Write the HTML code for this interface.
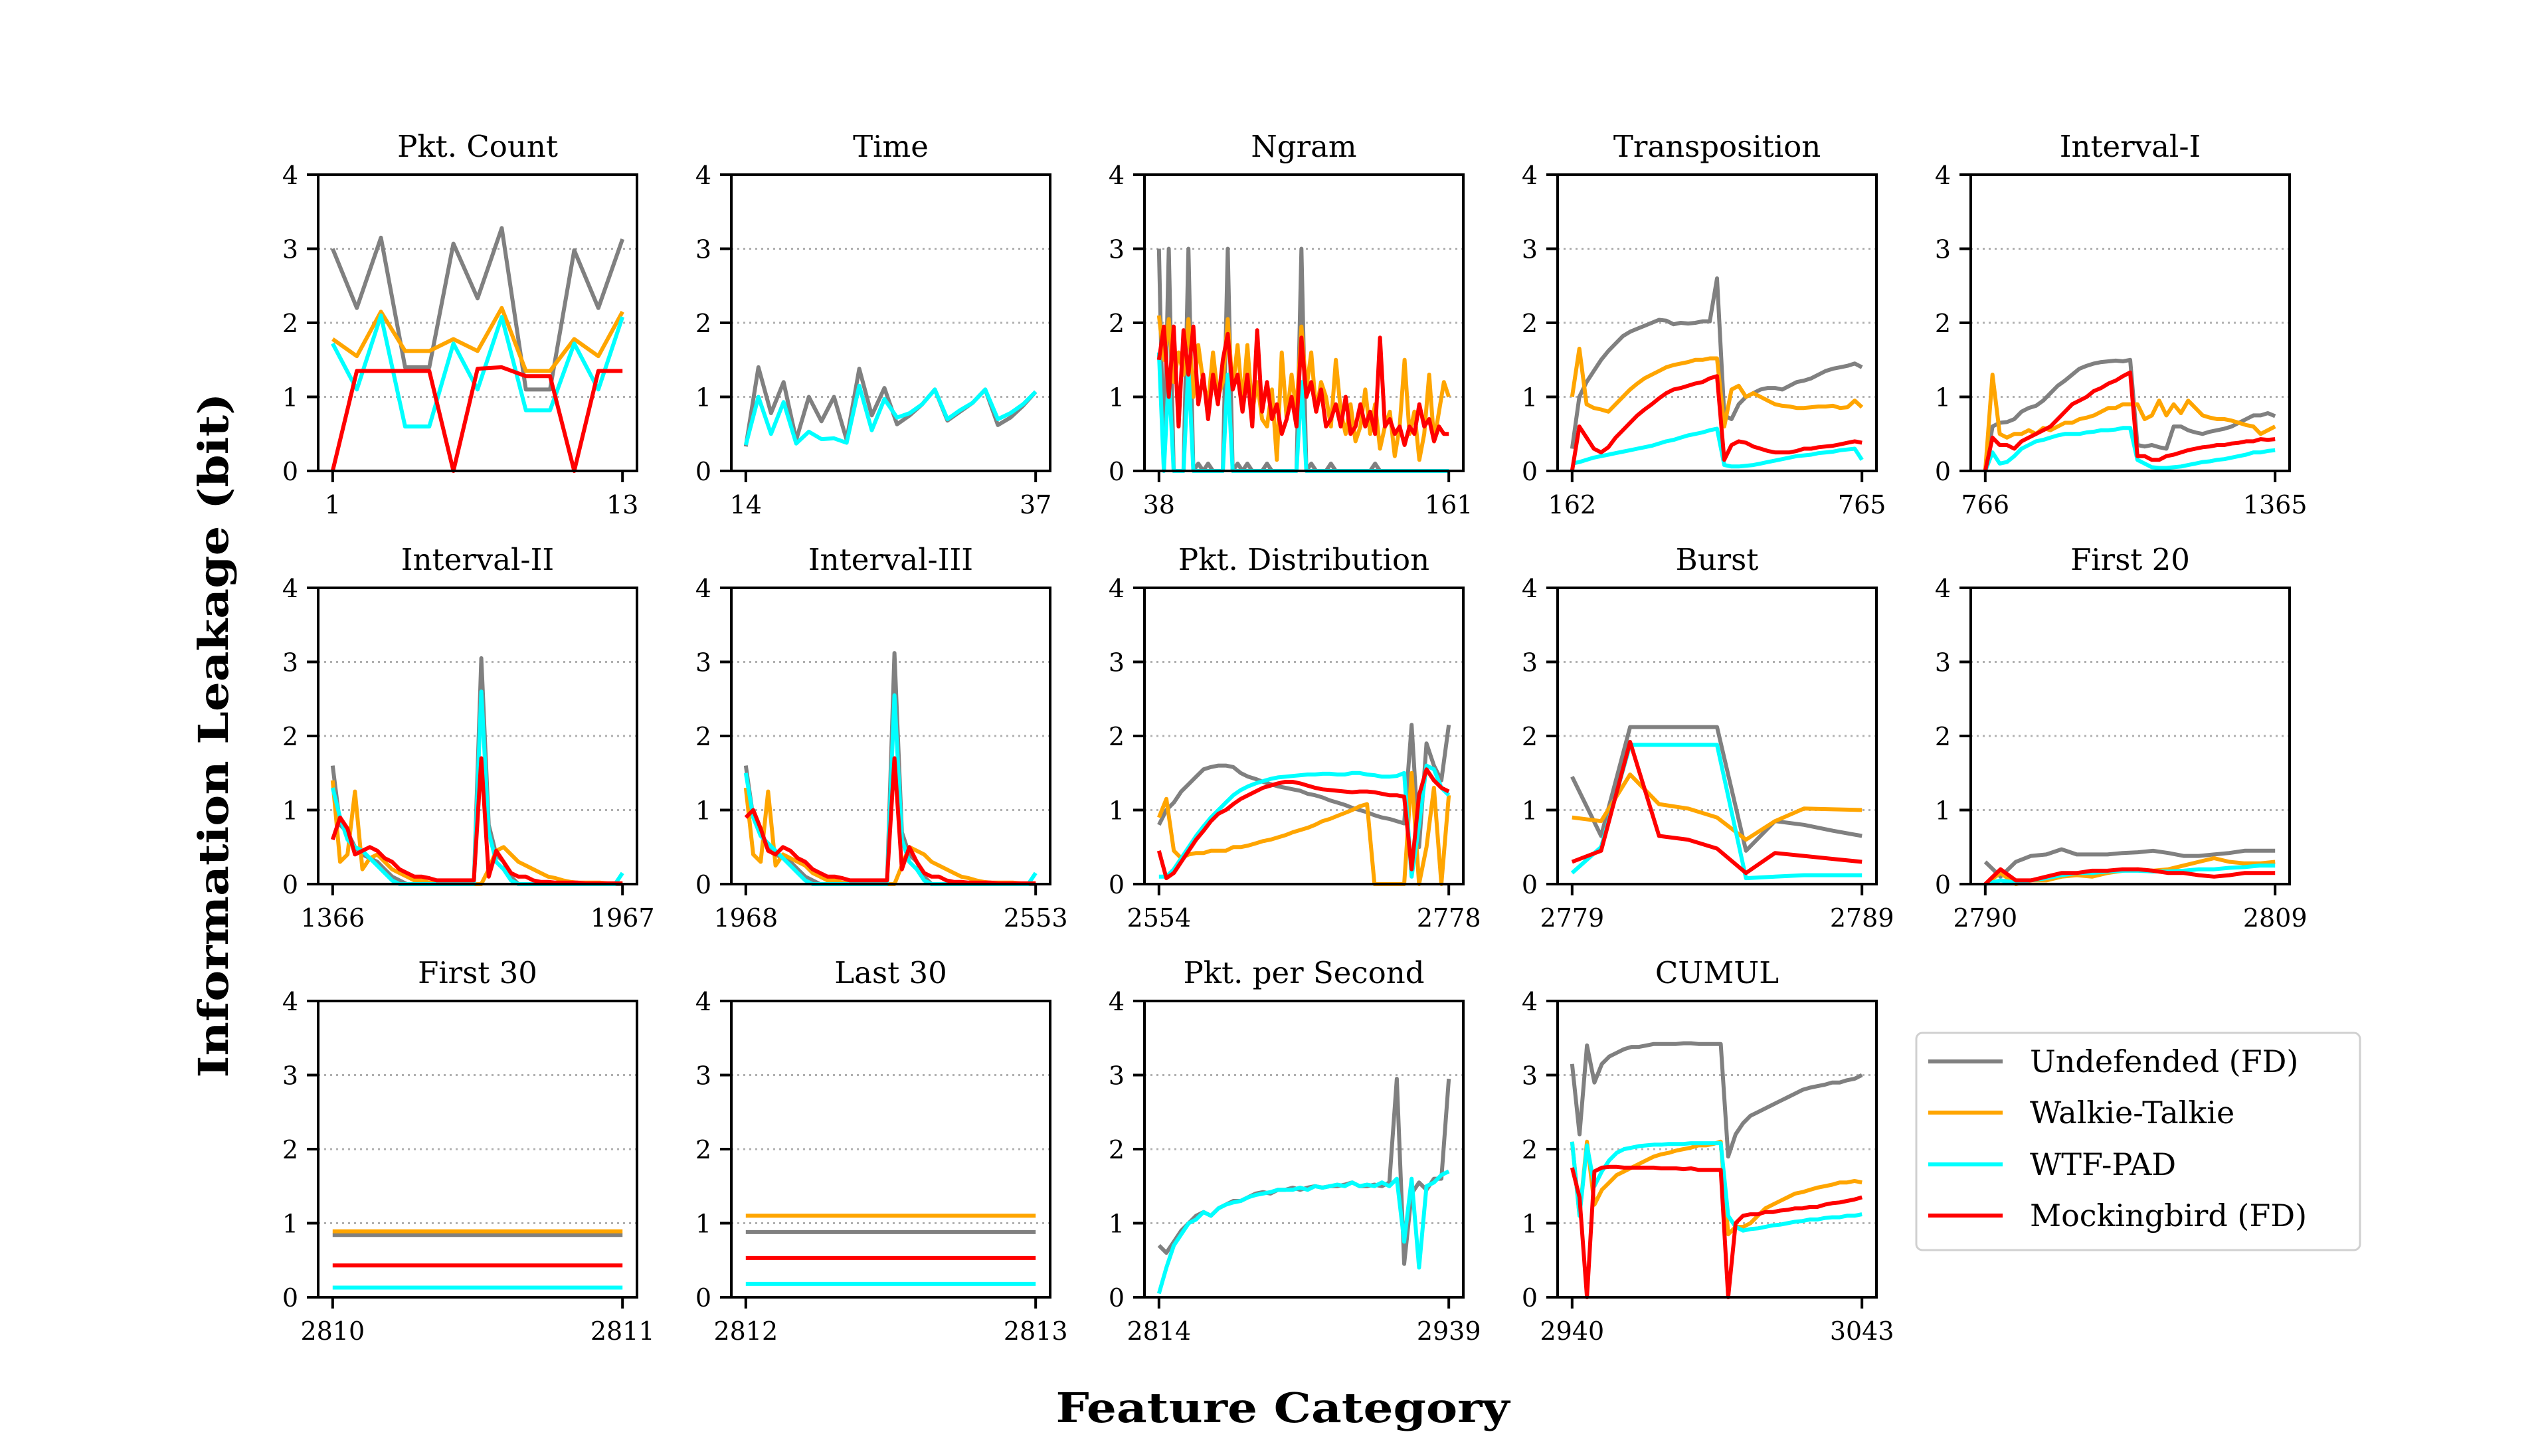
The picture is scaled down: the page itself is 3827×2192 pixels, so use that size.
<!DOCTYPE html>
<html><head><meta charset="utf-8"><style>
html,body{margin:0;padding:0;background:#fff;}
svg{display:block;font-family:"DejaVu Serif","Liberation Serif",serif;}
</style></head><body>
<svg id="fig" width="3827" height="2192" viewBox="0 0 3827 2192" xmlns="http://www.w3.org/2000/svg">
<rect width="3827" height="2192" fill="#fff"/>
<text transform="translate(343,1107) rotate(-90)" text-anchor="middle" font-weight="bold" font-size="62" textLength="1031" lengthAdjust="spacingAndGlyphs">Information Leakage (bit)</text>
<text x="1931" y="2141" text-anchor="middle" font-weight="bold" font-size="62" textLength="683" lengthAdjust="spacingAndGlyphs">Feature Category</text>
<g id="panels"></g>
<g>
<rect x="2885" y="1555" width="668" height="327" rx="9" fill="#fff" stroke="#d0d0d0" stroke-width="3"/>
<line x1="2903" x2="3015" y1="1598" y2="1598" stroke="#808080" stroke-width="6"/>
<text x="3056" y="1614" font-size="46">Undefended (FD)</text>
<line x1="2903" x2="3015" y1="1675" y2="1675" stroke="#ffa500" stroke-width="6"/>
<text x="3056" y="1691" font-size="46">Walkie-Talkie</text>
<line x1="2903" x2="3015" y1="1753" y2="1753" stroke="#00ffff" stroke-width="6"/>
<text x="3056" y="1769" font-size="46">WTF-PAD</text>
<line x1="2903" x2="3015" y1="1830" y2="1830" stroke="#ff0000" stroke-width="6"/>
<text x="3056" y="1846" font-size="46">Mockingbird (FD)</text>
</g>
</svg>
<script>
const panelTitles = ["Pkt. Count","Time","Ngram","Transposition","Interval-I","Interval-II","Interval-III","Pkt. Distribution","Burst","First 20","First 30","Last 30","Pkt. per Second","CUMUL"];
const panelRanges = [[1,13],[14,37],[38,161],[162,765],[766,1365],[1366,1967],[1968,2553],[2554,2778],[2779,2789],[2790,2809],[2810,2811],[2812,2813],[2814,2939],[2940,3043]];
const yTicks = [0,1,2,3,4];
const seriesNames = ["undefended","walkie-talkie","wtf-pad","mockingbird"];

const pktCountGray = [3.0,2.2,3.15,1.4,1.4,3.07,2.33,3.28,1.1,1.1,2.98,2.2,3.13];
const pktCountOrange = [1.78,1.55,2.15,1.62,1.62,1.78,1.62,2.2,1.35,1.35,1.78,1.55,2.15];
const pktCountCyan = [1.72,1.1,2.1,0.6,0.6,1.72,1.1,2.08,0.82,0.82,1.72,1.1,2.08];
const pktCountRed = [0,1.35,1.35,1.35,1.35,0,1.38,1.4,1.28,1.28,0,1.35,1.35];

const timeGray = [0.33,1.4,0.78,1.2,0.42,1.0,0.67,1.0,0.42,1.38,0.75,1.12,0.63,0.75,0.9,1.1,0.68,0.8,0.92,1.1,0.62,0.72,0.88,1.07];
const timeCyan = [0.35,1.0,0.5,0.93,0.37,0.53,0.43,0.44,0.38,1.15,0.55,0.97,0.72,0.78,0.9,1.1,0.7,0.82,0.92,1.1,0.7,0.78,0.9,1.07];

const ngramGray = [3,0,3,0,0,0,3,0,0.1,0,0.1,0,0,0,3,0,0.1,0,0.1,0,0,0,0.1,0,0,0,0,0,0,3,0,0.1,0,0,0,0.1,0,0,0,0,0,0,0,0,0.1,0,0,0,0,0,0,0,0,0,0,0,0,0,0,0];
const ngramOrange = [2.1,1.5,2.05,1.2,1.6,1.3,2.05,1.0,1.7,1.2,0.9,1.6,1.0,1.2,2.05,1.1,1.7,0.9,1.7,0.8,1.2,0.7,0.6,1.1,0.15,1.6,0.7,1.3,0.8,1.95,1.1,1.6,0.8,1.2,1.0,0.6,1.5,0.8,0.5,0.9,0.4,0.6,1.1,0.5,0.9,0.3,0.6,0.8,0.2,0.6,1.5,0.5,0.8,0.15,0.5,1.3,0.4,0.8,1.2,1.0];
const ngramCyan = [1.6,0,1.3,0,0,0,1.4,0,0,0,0,0,0,0,1.3,0,0,0,0,0,0,0,0,0,0,0,0,0,0,1.2,0,0,0,0,0,0,0,0,0,0,0,0,0,0,0,0,0,0,0,0,0,0,0,0,0,0,0,0,0,0];
const ngramRed = [1.5,1.95,1.0,1.95,0.6,1.9,1.3,1.95,0.9,1.3,0.7,1.3,0.9,1.5,1.85,1.1,1.3,0.8,1.3,0.6,1.9,0.8,1.2,0.7,0.9,0.5,0.7,1.0,0.6,1.8,1.0,1.2,0.8,1.1,0.6,0.7,0.9,0.6,1.0,0.5,0.6,0.9,0.6,0.8,0.5,1.8,0.6,0.7,0.5,0.6,0.35,0.6,0.5,0.9,0.6,0.7,0.4,0.6,0.5,0.5];

const transGray = [0.3,1.0,1.2,1.35,1.5,1.62,1.72,1.82,1.88,1.92,1.96,2.0,2.04,2.03,1.98,2.0,1.99,2.0,2.02,2.02,2.6,0.75,0.7,0.9,1.0,1.05,1.1,1.12,1.12,1.1,1.15,1.2,1.22,1.25,1.3,1.35,1.38,1.4,1.42,1.45,1.4];
const transOrange = [1.0,1.65,0.9,0.85,0.83,0.8,0.9,1.0,1.1,1.18,1.25,1.3,1.35,1.4,1.43,1.45,1.47,1.5,1.5,1.52,1.52,0.6,1.1,1.15,1.0,1.05,1.0,0.95,0.9,0.88,0.87,0.85,0.85,0.86,0.87,0.87,0.88,0.85,0.86,0.95,0.86];
const transCyan = [0.1,0.12,0.15,0.18,0.2,0.22,0.24,0.26,0.28,0.3,0.32,0.34,0.37,0.4,0.42,0.45,0.48,0.5,0.52,0.55,0.57,0.08,0.06,0.06,0.07,0.08,0.1,0.12,0.14,0.16,0.18,0.2,0.21,0.22,0.24,0.25,0.26,0.28,0.29,0.3,0.15];
const transRed = [0,0.6,0.45,0.3,0.25,0.32,0.45,0.55,0.65,0.75,0.83,0.9,0.98,1.05,1.1,1.12,1.15,1.18,1.2,1.25,1.28,0.15,0.35,0.4,0.38,0.33,0.3,0.27,0.25,0.25,0.25,0.27,0.3,0.3,0.32,0.33,0.34,0.36,0.38,0.4,0.38];

const int1Gray = [0.0,0.6,0.65,0.66,0.7,0.8,0.85,0.88,0.95,1.05,1.15,1.22,1.3,1.38,1.42,1.45,1.47,1.48,1.49,1.48,1.5,0.35,0.33,0.35,0.32,0.3,0.6,0.6,0.55,0.52,0.5,0.53,0.55,0.57,0.6,0.65,0.7,0.75,0.75,0.78,0.74];
const int1Orange = [0,1.3,0.5,0.45,0.5,0.5,0.55,0.5,0.58,0.55,0.6,0.65,0.65,0.7,0.72,0.75,0.8,0.85,0.85,0.9,0.9,0.9,0.7,0.75,0.95,0.75,0.9,0.78,0.95,0.85,0.75,0.72,0.7,0.7,0.68,0.65,0.62,0.6,0.5,0.55,0.6];
const int1Cyan = [0,0.25,0.1,0.12,0.2,0.3,0.35,0.4,0.42,0.45,0.48,0.5,0.5,0.5,0.52,0.53,0.55,0.55,0.56,0.58,0.58,0.15,0.1,0.05,0.04,0.04,0.05,0.06,0.08,0.1,0.12,0.13,0.15,0.16,0.18,0.2,0.22,0.25,0.25,0.27,0.28];
const int1Red = [0,0.45,0.35,0.35,0.3,0.4,0.45,0.5,0.55,0.6,0.7,0.8,0.9,0.95,1.0,1.08,1.12,1.18,1.22,1.28,1.33,0.2,0.2,0.15,0.15,0.2,0.22,0.25,0.28,0.3,0.32,0.33,0.35,0.35,0.37,0.38,0.4,0.4,0.43,0.42,0.43];

const int2Gray = [1.6,0.8,0.7,0.5,0.4,0.35,0.3,0.2,0.1,0.05,0,0,0,0,0,0,0,0,0,0,3.05,0.8,0.4,0.3,0.1,0,0,0,0,0,0,0,0,0,0,0,0,0,0,0];
const int2Orange = [1.4,0.3,0.4,1.25,0.2,0.35,0.4,0.3,0.2,0.15,0.1,0.05,0.05,0.02,0,0,0,0,0,0,0,0.2,0.45,0.5,0.4,0.3,0.25,0.2,0.15,0.1,0.08,0.05,0.03,0.02,0.02,0.02,0.02,0.01,0.01,0.01];
const int2Cyan = [1.3,0.9,0.6,0.5,0.45,0.35,0.25,0.15,0.05,0,0,0,0,0,0,0,0,0,0,0,2.6,0.7,0.3,0.2,0.05,0,0,0,0,0,0,0,0,0,0,0,0,0,0,0.15];
const int2Red = [0.6,0.9,0.75,0.4,0.45,0.5,0.45,0.35,0.3,0.2,0.15,0.1,0.1,0.08,0.05,0.05,0.05,0.05,0.05,0.05,1.7,0.1,0.45,0.3,0.15,0.1,0.1,0.05,0.03,0.03,0.02,0.02,0.02,0.02,0.01,0.01,0.01,0.01,0.01,0.01];

const int3Gray = [1.6,0.9,0.7,0.5,0.4,0.35,0.3,0.2,0.1,0.05,0,0,0,0,0,0,0,0,0,0,3.12,0.7,0.4,0.3,0.1,0,0,0,0,0,0,0,0,0,0,0,0,0,0,0];
const int3Orange = [1.3,0.4,0.3,1.25,0.25,0.4,0.35,0.3,0.25,0.15,0.1,0.05,0.05,0.02,0,0,0,0,0,0,0,0.25,0.5,0.45,0.4,0.3,0.25,0.2,0.15,0.1,0.08,0.05,0.03,0.02,0.02,0.02,0.02,0.01,0.01,0.01];
const int3Cyan = [1.5,0.9,0.65,0.55,0.45,0.35,0.25,0.15,0.05,0,0,0,0,0,0,0,0,0,0,0,2.55,0.6,0.3,0.2,0.05,0,0,0,0,0,0,0,0,0,0,0,0,0,0,0.15];
const int3Red = [0.9,1.0,0.75,0.45,0.4,0.5,0.45,0.35,0.3,0.2,0.15,0.1,0.1,0.08,0.05,0.05,0.05,0.05,0.05,0.05,1.7,0.2,0.5,0.3,0.15,0.1,0.1,0.05,0.03,0.03,0.02,0.02,0.02,0.02,0.01,0.01,0.01,0.01,0.01,0.01];

const distGray = [0.8,1.0,1.1,1.25,1.35,1.45,1.55,1.58,1.6,1.6,1.58,1.5,1.45,1.42,1.38,1.35,1.32,1.3,1.28,1.26,1.22,1.2,1.17,1.13,1.1,1.07,1.03,1.0,0.97,0.93,0.9,0.88,0.85,0.82,2.15,0.5,1.9,1.6,1.4,2.15];
const distOrange = [0.9,1.15,0.45,0.35,0.4,0.42,0.42,0.45,0.45,0.45,0.5,0.5,0.52,0.55,0.58,0.6,0.63,0.66,0.7,0.73,0.76,0.8,0.85,0.88,0.92,0.96,1.0,1.05,1.08,0,0,0,0,0,1.5,0,0.5,1.3,0,1.2];
const distCyan = [0.1,0.1,0.2,0.35,0.5,0.65,0.78,0.9,1.0,1.1,1.2,1.27,1.32,1.36,1.39,1.42,1.44,1.45,1.46,1.47,1.48,1.48,1.49,1.49,1.48,1.48,1.5,1.5,1.48,1.47,1.45,1.45,1.46,1.5,0.1,0.8,1.6,1.55,1.3,1.2];
const distRed = [0.45,0.08,0.15,0.3,0.45,0.6,0.72,0.85,0.95,1.0,1.08,1.15,1.2,1.25,1.3,1.33,1.36,1.38,1.38,1.36,1.33,1.3,1.28,1.27,1.26,1.25,1.24,1.25,1.25,1.24,1.22,1.2,1.2,1.18,0.2,1.2,1.55,1.4,1.3,1.25];

const burstGray = [1.45,0.65,2.12,2.12,2.12,2.12,0.45,0.85,0.8,0.72,0.65];
const burstOrange = [0.9,0.85,1.48,1.08,1.02,0.9,0.6,0.85,1.02,1.01,1.0];
const burstCyan = [0.15,0.5,1.88,1.88,1.88,1.88,0.08,0.1,0.12,0.12,0.12];
const burstRed = [0.3,0.45,1.92,0.65,0.6,0.48,0.15,0.42,0.38,0.34,0.3];

const first20Gray = [0.3,0.1,0.3,0.38,0.4,0.47,0.4,0.4,0.4,0.42,0.43,0.45,0.42,0.38,0.38,0.4,0.42,0.45,0.45,0.45];
const first20Orange = [0,0.15,0,0.05,0.05,0.1,0.12,0.1,0.15,0.18,0.2,0.18,0.2,0.25,0.3,0.35,0.3,0.28,0.28,0.3];
const first20Cyan = [0,0.05,0.02,0.05,0.08,0.12,0.15,0.15,0.17,0.18,0.18,0.17,0.17,0.18,0.2,0.2,0.22,0.23,0.25,0.25];
const first20Red = [0,0.2,0.05,0.05,0.1,0.15,0.15,0.18,0.18,0.2,0.2,0.18,0.15,0.15,0.12,0.1,0.12,0.15,0.15,0.15];

const first30Gray = [0.84,0.84];
const first30Orange = [0.89,0.89];
const first30Cyan = [0.13,0.13];
const first30Red = [0.43,0.43];

const last30Gray = [0.88,0.88];
const last30Orange = [1.1,1.1];
const last30Cyan = [0.18,0.18];
const last30Red = [0.53,0.53];

const ppsGray = [0.7,0.6,0.75,0.9,1.0,1.1,1.15,1.1,1.2,1.25,1.3,1.3,1.35,1.4,1.42,1.4,1.45,1.45,1.48,1.45,1.48,1.5,1.48,1.5,1.5,1.52,1.55,1.5,1.5,1.52,1.5,1.55,2.95,0.45,1.4,1.55,1.45,1.6,1.6,2.95];
const ppsCyan = [0.05,0.4,0.7,0.85,1.0,1.05,1.15,1.1,1.2,1.25,1.28,1.3,1.35,1.38,1.4,1.42,1.45,1.45,1.45,1.48,1.45,1.5,1.48,1.5,1.52,1.5,1.55,1.5,1.52,1.5,1.55,1.5,1.6,0.75,1.6,0.4,1.5,1.55,1.65,1.7];

const cumulGray = [3.15,2.2,3.4,2.9,3.15,3.25,3.3,3.35,3.38,3.38,3.4,3.42,3.42,3.42,3.42,3.43,3.43,3.42,3.42,3.42,3.42,1.9,2.2,2.35,2.45,2.5,2.55,2.6,2.65,2.7,2.75,2.8,2.83,2.85,2.87,2.9,2.9,2.93,2.95,3.0];
const cumulOrange = [2.1,1.1,2.1,1.25,1.45,1.55,1.65,1.7,1.75,1.8,1.85,1.9,1.93,1.95,1.98,2.0,2.02,2.05,2.05,2.07,2.1,0.85,0.95,0.95,1.0,1.1,1.2,1.25,1.3,1.35,1.4,1.42,1.45,1.48,1.5,1.52,1.55,1.55,1.57,1.55];
const cumulCyan = [2.1,1.1,2.05,1.5,1.7,1.85,1.95,2.0,2.02,2.04,2.05,2.06,2.06,2.07,2.07,2.07,2.08,2.08,2.08,2.08,2.08,1.1,0.95,0.9,0.92,0.93,0.95,0.97,0.98,1.0,1.02,1.03,1.05,1.05,1.07,1.08,1.08,1.1,1.1,1.12];
const cumulRed = [1.75,1.35,0,1.7,1.75,1.76,1.76,1.75,1.75,1.75,1.75,1.75,1.74,1.74,1.74,1.73,1.74,1.72,1.72,1.72,1.72,0,1.0,1.1,1.12,1.12,1.15,1.15,1.17,1.18,1.2,1.2,1.22,1.22,1.25,1.27,1.28,1.3,1.32,1.35];

const panelSeries = [
 [pktCountGray,pktCountOrange,pktCountCyan,pktCountRed],
 [timeGray,null,timeCyan,null],
 [ngramGray,ngramOrange,ngramCyan,ngramRed],
 [transGray,transOrange,transCyan,transRed],
 [int1Gray,int1Orange,int1Cyan,int1Red],
 [int2Gray,int2Orange,int2Cyan,int2Red],
 [int3Gray,int3Orange,int3Cyan,int3Red],
 [distGray,distOrange,distCyan,distRed],
 [burstGray,burstOrange,burstCyan,burstRed],
 [first20Gray,first20Orange,first20Cyan,first20Red],
 [first30Gray,first30Orange,first30Cyan,first30Red],
 [last30Gray,last30Orange,last30Cyan,last30Red],
 [ppsGray,null,ppsCyan,null],
 [cumulGray,cumulOrange,cumulCyan,cumulRed]
];

const NS = "http://www.w3.org/2000/svg";
const colors = ["#808080","#ffa500","#00ffff","#ff0000"];
const colLeft = [479,1101,1723,2345,2967];
const rowTop = [263,885,1507];
const W = 480, H = 446;
const root = document.getElementById("panels");
function mk(tag, attrs, parent){const e=document.createElementNS(NS,tag);for(const k in attrs)e.setAttribute(k,attrs[k]);parent.appendChild(e);return e;}
function slug(s){return s.toLowerCase().replace(/[^a-z0-9]+/g,'-').replace(/^-|-$/g,'');}

panelTitles.forEach((title, p) => {
  const L = colLeft[p%5], T = rowTop[Math.floor(p/5)];
  const [a,b] = panelRanges[p];
  const d = b - a;
  const xs = v => L + (v - (a - 0.05*d)) / (1.1*d) * W;
  const ys = v => T + H - v/4*H;
  const g = mk("g", {}, root);
  
  
  [1,2,3].forEach(t => {
    const gl = mk("line", {x1:L, x2:L+W, y1:ys(t), y2:ys(t), stroke:"#b0b0b0", "stroke-width":3, "stroke-dasharray":"3,6"}, g);
    
    
  });
  panelSeries[p].forEach((arr, s) => {
    if (!arr) return;
    const n = arr.length;
    const pts = arr.map((v,i) => xs(a + d*i/(n-1)).toFixed(1) + "," + ys(v).toFixed(1)).join(" ");
    const pl = mk("polyline", {points:pts, fill:"none", stroke:colors[s], "stroke-width":6, "stroke-linejoin":"round"}, g);
    
    
  });
  const fr = mk("rect", {x:L, y:T, width:W, height:H, fill:"none", stroke:"#000", "stroke-width":4}, g);
  
  
  yTicks.forEach(t => {
    mk("line", {x1:L-17, x2:L, y1:ys(t), y2:ys(t), stroke:"#000", "stroke-width":4}, g);
    const tl = mk("text", {x:L-30, y:ys(t)+14, "text-anchor":"end", "font-size":38}, g);
    tl.textContent = t;
    
    
  });
  [a,b].forEach(t => {
    mk("line", {x1:xs(t), x2:xs(t), y1:T+H, y2:T+H+17, stroke:"#000", "stroke-width":4}, g);
    const tl = mk("text", {x:xs(t), y:T+H+64, "text-anchor":"middle", "font-size":38}, g);
    tl.textContent = t;
    
    
  });
  const tt = mk("text", {x:L+W/2, y:T-27, "text-anchor":"middle", "font-size":45}, g);
  tt.textContent = title;
  
  
});
</script>
</body></html>
